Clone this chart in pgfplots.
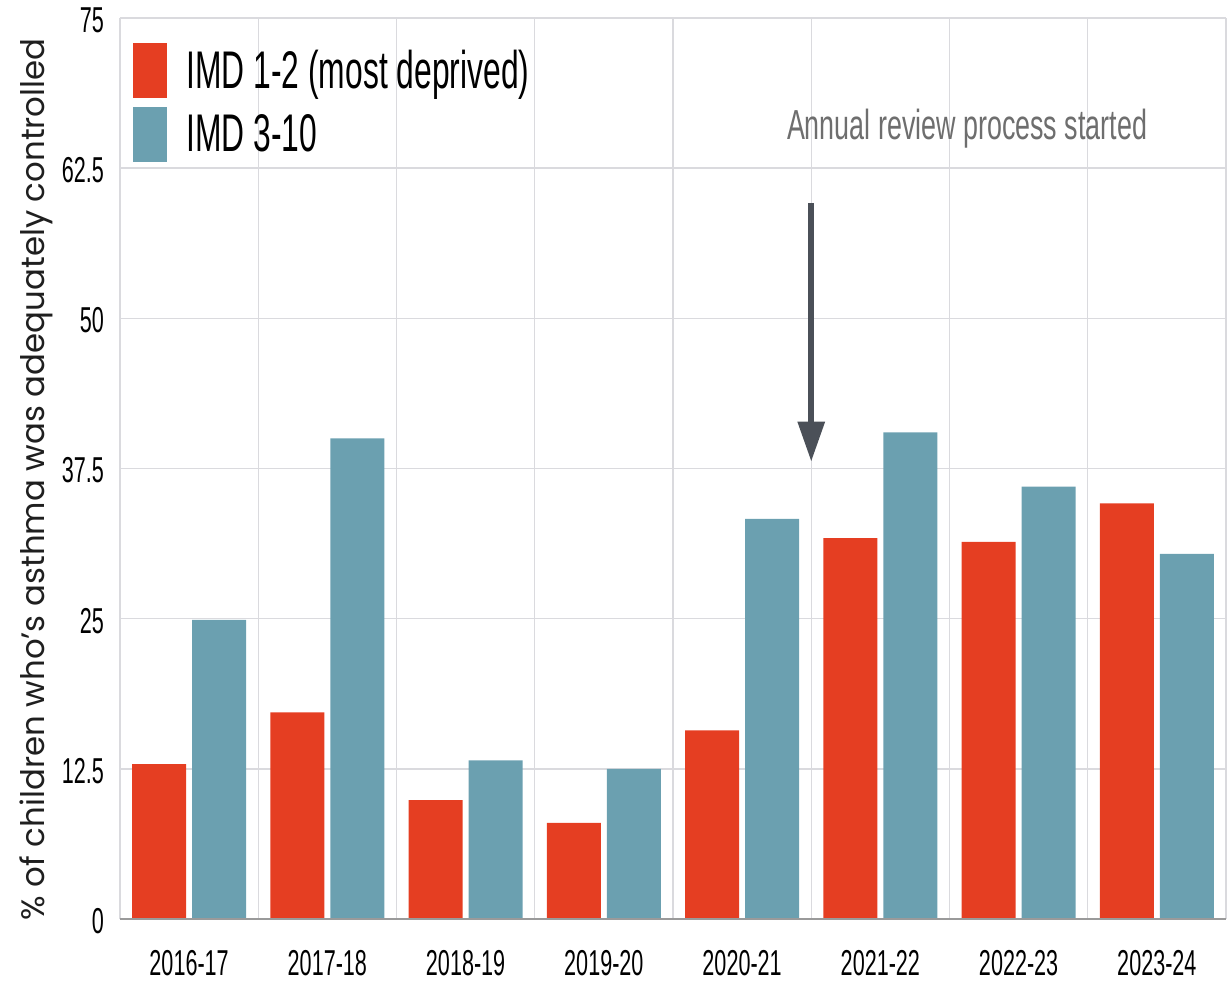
\documentclass[border=0pt]{standalone}
\usepackage{pgfplots}
\usepackage{pgfplotstable}
\pgfplotsset{compat=1.18}
\usetikzlibrary{arrows.meta}
\usepackage{fontspec}
\setmainfont{Liberation Sans}
\newfontfamily\cond[FakeStretch=0.6]{Liberation Sans}
\newfontfamily\condA[FakeStretch=0.64]{Liberation Sans}
\newfontfamily\pop{Poppins}
\definecolor{redbar}{HTML}{E53E22}
\definecolor{bluebar}{HTML}{6BA0B0}
\definecolor{gridc}{HTML}{DADADE}
\definecolor{basec}{HTML}{9A9A9A}
\definecolor{arrowc}{HTML}{4B5058}
\definecolor{annot}{HTML}{6E6E6E}

\pgfplotstableread{
x red blue
0 12.9 24.9
1 17.2 40.0
2 9.9 13.2
3 8.0 12.5
4 15.7 33.3
5 31.7 40.5
6 31.4 36.0
7 34.6 30.4
}\datatable

\begin{document}
\begin{tikzpicture}
\useasboundingbox (0,0) rectangle (614.5pt,-493.5pt);
\begin{axis}[
  at={(60pt,-459.5pt)}, anchor=south west,
  scale only axis, width=553pt, height=450.5pt,
  xmin=-0.5, xmax=7.5, ymin=0, ymax=75,
  axis line style={draw=none},
  ybar, bar width=27pt,
  xtick={0,...,7},
  xticklabels={2016-17,2017-18,2018-19,2019-20,2020-21,2021-22,2022-23,2023-24},
  minor xtick={-0.5,0.5,...,7.5},
  xminorgrids, ymajorgrids,
  ytick={0,12.5,25,37.5,50,62.5,75},
  yticklabels={0,12.5,25,37.5,50,62.5,75},
  major tick length=0pt, minor tick length=0pt,
  grid style={gridc, line width=0.7pt},
  minor grid style={gridc, line width=0.7pt},
  /pgf/number format/assume math mode=true,
  tick label style={font=\cond\fontsize{18}{20}\selectfont, text=black},
  xticklabel style={yshift=-12pt},
  yticklabel style={xshift=-4.5pt, yshift=-1pt},
  ylabel={\% of children who’s asthma was adequately controlled},
  ylabel style={font=\pop\fontsize{16.2}{19}\selectfont, text=black!88,
    at={(axis description cs:-0.076,0.488)}, anchor=center},
  legend style={at={(axis description cs:0.0057,0.9767)}, anchor=north west,
    draw=none, fill=none, font=\cond\fontsize{26.5}{30}\selectfont,
    nodes={inner xsep=9.9pt, inner ysep=1pt}, row sep=4.5pt},
  legend cell align=left,
]
\addplot[draw=none, fill=redbar, bar shift=-15pt,
  legend image code/.code={\fill[redbar] (0pt,-13.75pt) rectangle (17pt,13.75pt);}]
  table[x=x, y=red] {\datatable};
\addlegendentry{IMD 1-2 (most deprived)}
\addplot[draw=none, fill=bluebar, bar shift=15pt,
  legend image code/.code={\fill[bluebar] (0pt,-13.75pt) rectangle (17pt,13.75pt);}]
  table[x=x, y=blue] {\datatable};
\addlegendentry{IMD 3-10}
\draw[basec, line width=1pt] (axis cs:-0.5,0) -- (axis cs:7.5,0);
\draw[arrowc, line width=3pt, -{Triangle[width=13pt,length=20pt]}]
  (axis cs:4.5,59.6) -- (axis cs:4.5,38.07);
\node[annot, font=\condA\fontsize{21}{24}\selectfont, anchor=base, inner sep=0pt]
  at (axis cs:5.627,64.85) {Annual review process started};
\end{axis}
\end{tikzpicture}
\end{document}
